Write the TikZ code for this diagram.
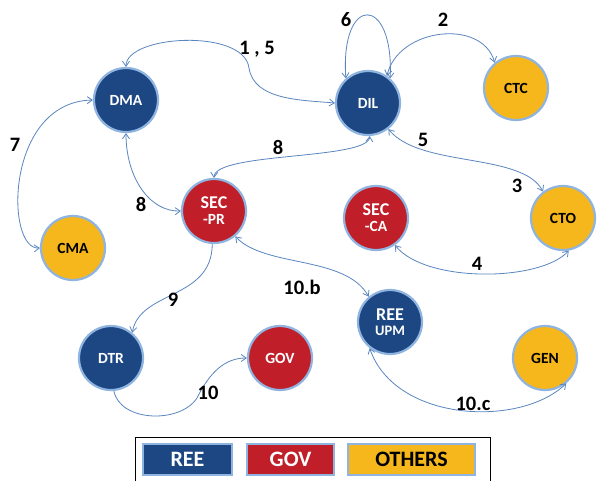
\documentclass[tikz,border=0pt]{standalone}
\usepackage{fontspec}
\setmainfont{Carlito}
\usetikzlibrary{arrows.meta}
\definecolor{reeblue}{HTML}{1C4783}
\definecolor{govred}{HTML}{C01F2A}
\definecolor{othyellow}{HTML}{F5B71C}
\definecolor{rimblue}{HTML}{8FB4E0}
\definecolor{edgeblue}{HTML}{5A86C0}
\tikzset{
  actor/.style={circle, draw=rimblue, line width=2.2pt, minimum size=64pt, inner sep=0pt, font=\bfseries\fontsize{15.5}{16}\selectfont, align=center},
  reenode/.style={actor, fill=reeblue, text=white},
  govnode/.style={actor, fill=govred, text=white},
  othnode/.style={actor, fill=othyellow, text=black},
  link/.style={draw=edgeblue, line width=0.8pt},
  bilink/.style={link, {Straight Barb[length=5pt,width=7pt]}-{Straight Barb[length=5pt,width=7pt]}},
  onelink/.style={link, -{Straight Barb[length=5pt,width=7pt]}},
  lbl/.style={font=\bfseries\fontsize{20.5}{21}\selectfont, text=black, inner sep=0pt},
  legbox/.style={draw=rimblue, line width=1.5pt, minimum height=31pt, inner sep=0pt, font=\bfseries\fontsize{22}{24}\selectfont},
}
\begin{document}
\begin{tikzpicture}[x=1pt,y=-1pt]
\clip (0,0) rectangle (597,480);
\fill[white] (0,0) rectangle (597,480);
% nodes
\node[reenode] (DMA) at (126,100) {DMA};
\node[reenode] (DIL) at (368,103) {DIL};
\node[othnode] (CTC) at (516,88) {CTC};
\node[othnode] (CTO) at (563,218) {CTO};
\node[govnode] (SECCA) at (376,218) {\fontsize{18}{22}\selectfont SEC\\-CA};
\node[govnode] (SECPR) at (214,211) {\fontsize{18}{22}\selectfont SEC\\-PR};
\node[othnode] (CMA) at (73,248) {CMA};
\node[reenode] (DTR) at (111,358) {DTR};
\node[govnode] (GOV) at (280,358) {GOV};
\node[reenode] (REE) at (390,322) {\fontsize{18}{19}\selectfont REE\\[-1pt]\fontsize{14.5}{15}\selectfont UPM};
\node[othnode] (GEN) at (545,358) {GEN};
% connectors
\coordinate (k15) at (249,68);
\draw[bilink] (DMA.north) .. controls (126,35) and (244,28) .. (k15) .. controls (254,100) and (300,100) .. (DIL.west);
\draw[bilink] (DIL.55) .. controls (398,28) and (482,18) .. (CTC.130);
\draw[bilink] (DIL.132) .. controls (340,-6) and (394,-6) .. (DIL.48);
\draw[bilink] (DIL.-52) .. controls (420,168) and (522,152) .. (CTO.127);
\draw[bilink] (DIL.-87) .. controls (368,160) and (215,152) .. (SECPR.north);
\draw[bilink] (DMA.south) .. controls (126,178) and (150,212) .. (SECPR.west);
\draw[bilink] (DMA.180) .. controls (5,102) and (5,250) .. (CMA.west);
\draw[bilink] (SECCA.-55) .. controls (425,283) and (540,282) .. (CTO.-80);
\draw[bilink] (SECPR.-50) .. controls (265,268) and (345,255) .. (REE.130);
\draw[onelink] (SECPR.-93) .. controls (212,300) and (140,290) .. (DTR.50);
\coordinate (k10) at (197,398);
\draw[onelink] (DTR.-85) .. controls (120,422) and (180,424) .. (k10) .. controls (210,372) and (225,358) .. (GOV.west);
\draw[bilink] (REE.232) .. controls (395,422) and (520,428) .. (GEN.-50);
% labels
\node[lbl] (l15) at (257,49) {1 , 5};
\node[lbl] (l2) at (443,20) {2};
\node[lbl] (l6) at (346,20) {6};
\node[lbl] (l5) at (423,140) {5};
\node[lbl] (l3) at (517,186) {3};
\node[lbl] (l8a) at (278,147) {8};
\node[lbl] (l8b) at (141,204) {8};
\node[lbl] (l7) at (15,145) {7};
\node[lbl] (l4) at (477,264) {4};
\node[lbl] (l10b) at (302,287) {10.b};
\node[lbl] (l9) at (173,300) {9};
\node[lbl] (l10) at (208,393) {10};
\node[lbl] (l10c) at (473,404) {10.c};
% legend
\node[draw=black, line width=0.6pt, minimum width=355pt, minimum height=50pt, inner sep=0pt] (legend) at (312.5,462) {};
\node[legbox, fill=reeblue, text=white, minimum width=89pt] (lgree) at (187.5,459.5) {REE};
\node[legbox, fill=govred, text=white, minimum width=87pt] (lggov) at (290.5,459.5) {GOV};
\node[legbox, fill=othyellow, text=black, minimum width=127pt] (lgoth) at (411.5,459.5) {OTHERS};
\end{tikzpicture}
\end{document}
